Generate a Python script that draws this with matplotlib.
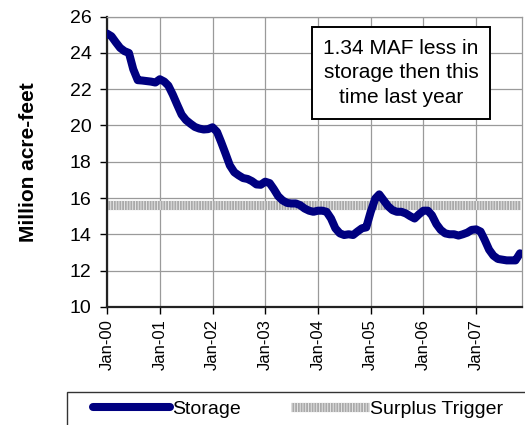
import numpy as np
import pandas as pd
import matplotlib
matplotlib.use("Agg")
import matplotlib.pyplot as plt
import matplotlib.dates as mdates
from matplotlib.patches import Rectangle
from matplotlib.legend_handler import HandlerTuple

plt.rcParams['font.family'] = ['Liberation Sans', 'DejaVu Sans']

# monthly storage, Jan-2000 .. Nov-2007 (million acre-feet)
months = pd.date_range("2000-01-01", periods=95, freq="MS")
storage = [25.07, 24.92, 24.6, 24.28, 24.1, 24.0, 23.1, 22.5, 22.48, 22.45, 22.42, 22.37,
           22.55, 22.42, 22.2, 21.7, 21.15, 20.6, 20.3, 20.1, 19.92, 19.83, 19.78, 19.8,
           19.9, 19.65, 19.1, 18.45, 17.8, 17.42, 17.25, 17.1, 17.05, 16.93, 16.75, 16.73,
           16.9, 16.82, 16.5, 16.1, 15.87, 15.73, 15.7, 15.7, 15.6, 15.42, 15.3, 15.24,
           15.3, 15.3, 15.24, 14.87, 14.33, 14.05, 13.96, 14.0, 13.96, 14.15, 14.33, 14.38,
           15.24, 15.96, 16.2, 15.87, 15.55, 15.33, 15.24, 15.24, 15.15, 15.0, 14.87, 15.1,
           15.3, 15.3, 15.05, 14.56, 14.24, 14.05, 14.0, 14.0, 13.93, 14.0, 14.09, 14.24,
           14.27, 14.15, 13.7, 13.15, 12.82, 12.64, 12.6, 12.56, 12.56, 12.56, 12.95]
trigger = [15.6] * len(months)

yticks = [10, 12, 14, 16, 18, 20, 22, 24, 26]
note = "1.34 MAF less in\nstorage then this\ntime last year"

fig = plt.figure(figsize=(5.25, 4.25), dpi=100)
ax = fig.add_axes([107/525, (425-306.8)/425, (522-107)/525, 290.1/425])

trig_base, = ax.plot(months, trigger, color='#aaaaaa', lw=6.6, solid_capstyle='butt', zorder=2)
trig_dots, = ax.plot(months, trigger, color='#e8e8e8', lw=6.6, ls=(0, (0.1, 0.2)),
                     dash_capstyle='butt', zorder=2)
stor, = ax.plot(months, storage, color='#000080', lw=5.8, solid_capstyle='round',
                solid_joinstyle='round', zorder=3)

ax.set_ylim(10, 26)
ax.set_yticks(yticks)
ax.set_xlim(pd.Timestamp("2000-01-01"), pd.Timestamp("2007-11-15"))
ax.xaxis.set_major_locator(mdates.YearLocator())
ax.xaxis.set_major_formatter(mdates.DateFormatter("%b-%y"))
ax.tick_params(axis='x', labelrotation=90, labelsize=12, direction='out', length=5, width=1, pad=4)
ax.tick_params(axis='y', labelsize=14, direction='out', length=5, width=1, pad=6)
ax.grid(True, color='#9a9a9a', lw=0.9)
ax.set_axisbelow(True)
for s in ['left', 'bottom']:
    ax.spines[s].set_color('#222222')
    ax.spines[s].set_linewidth(1.6)
for s in ['top', 'right']:
    ax.spines[s].set_color('#9a9a9a')
    ax.spines[s].set_linewidth(0.9)

ax.set_ylabel("Million acre-feet", fontsize=15, fontweight='bold', labelpad=23)

fig.text(401/525, 1 - 73/425, note, ha='center', va='center', fontsize=15, linespacing=1.38,
         bbox=dict(boxstyle='square,pad=0.55', facecolor='white', edgecolor='black', lw=1.4))

fig.patches.append(Rectangle((67/525, -0.1), 1.0, 0.1 + (425-392)/425, transform=fig.transFigure,
                             facecolor='white', edgecolor='#333333', lw=1.0))
fig.legend([stor, (trig_base, trig_dots)], ["Storage", "Surplus Trigger"],
           handler_map={tuple: HandlerTuple(ndivide=1, pad=0)},
           loc='center left', bbox_to_anchor=(75/525, 1 - 409/425), ncol=2, frameon=False,
           fontsize=14, handlelength=4.0, handletextpad=0.1, columnspacing=2.56)

fig.savefig("out.png", dpi=100)
